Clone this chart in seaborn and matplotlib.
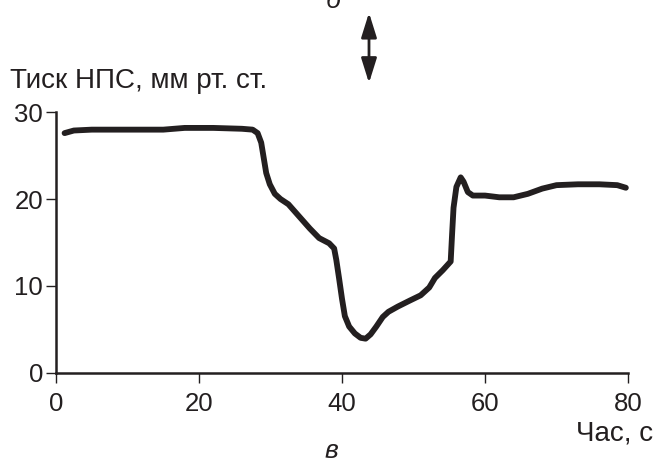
import numpy as np
import pandas as pd
import matplotlib as mpl
mpl.use("Agg")
import matplotlib.pyplot as plt
import matplotlib.patches as mpatches
import seaborn as sns

### DATA ###
time_s = [1.2, 2.5, 5, 10, 15, 18, 22, 26, 27.5, 28.2, 28.7, 29.0, 29.4, 29.9, 30.6, 31.4,
          32.5, 34, 35.5, 36.8, 38.2, 38.9, 39.2, 39.6, 40.0, 40.4, 41.0, 41.8, 42.6, 43.3,
          44.0, 44.8, 45.7, 46.5, 47.8, 49.5, 51.0, 52.2, 53.0, 54.1, 55.2, 55.4, 55.6, 56.0,
          56.6, 57.0, 57.6, 58.3, 60, 62, 64, 66, 68, 70, 73, 76, 78.5, 79.7]
pressure = [27.6, 27.9, 28.0, 28.0, 28.0, 28.2, 28.2, 28.1, 28.0, 27.6, 26.5, 25.0, 23.0, 21.7, 20.6, 20.0,
            19.4, 18.0, 16.6, 15.5, 14.9, 14.3, 13.0, 10.8, 8.5, 6.5, 5.3, 4.5, 4.0, 3.9,
            4.4, 5.3, 6.4, 7.0, 7.6, 8.3, 8.9, 9.8, 10.9, 11.8, 12.8, 16.0, 19.0, 21.4,
            22.5, 22.0, 20.8, 20.4, 20.4, 20.2, 20.2, 20.6, 21.2, 21.6, 21.7, 21.7, 21.6, 21.3]
x_ticks = [0, 20, 40, 60, 80]
y_ticks = [0, 10, 20, 30]
y_label = "Тиск НПС, мм рт. ст."
x_label = "Час, с"

df = pd.DataFrame({"t": time_s, "p": pressure})

### STYLE ###
sns.set_style("ticks")
plt.rcParams['font.family'] = ['Liberation Sans', 'DejaVu Sans']
ink = '#231f20'

fig = plt.figure(figsize=(6.69, 4.63), dpi=100)
ax = fig.add_axes([56/669, 1-372.5/463, (628-56)/669, (372.5-112.3)/463])

sns.lineplot(data=df, x="t", y="p", ax=ax, color=ink, linewidth=4.2,
             solid_joinstyle='round', solid_capstyle='round', clip_on=False)

ax.set_xlim(0, 80)
ax.set_ylim(0, 30)
ax.set_xticks(x_ticks)
ax.set_yticks(y_ticks)
ax.set_xlabel("")
ax.set_ylabel("")
sns.despine(ax=ax)
for s in ['left', 'bottom']:
    ax.spines[s].set_linewidth(1.8)
    ax.spines[s].set_color(ink)
ax.tick_params(axis='both', length=7.2, width=1.0, color=ink, labelsize=18.5, labelcolor=ink)
ax.tick_params(axis='x', pad=7)
ax.tick_params(axis='y', pad=2)

# axis titles
fig.text(10/669, 1-88/463, y_label, fontsize=20, color=ink, ha='left', va='baseline')
fig.text(653/669, 1-440/463, x_label, fontsize=20, color=ink, ha='right', va='baseline')

# panel letters
fig.text(333/669, 1-8/463, "б", fontsize=19, style='italic', color=ink, ha='center', va='baseline')
fig.text(331/669, 1-458/463, "в", fontsize=19, style='italic', color=ink, ha='center', va='baseline')

# double arrow
arr = mpatches.FancyArrowPatch((369/669, 1-12.7/463), (369/669, 1-83/463),
                               transform=fig.transFigure,
                               arrowstyle=mpatches.ArrowStyle('<|-|>', head_length=15, head_width=4.7),
                               mutation_scale=1, lw=2, color=ink, shrinkA=0, shrinkB=0)
fig.patches.append(arr)

fig.savefig("out.png", dpi=100)
